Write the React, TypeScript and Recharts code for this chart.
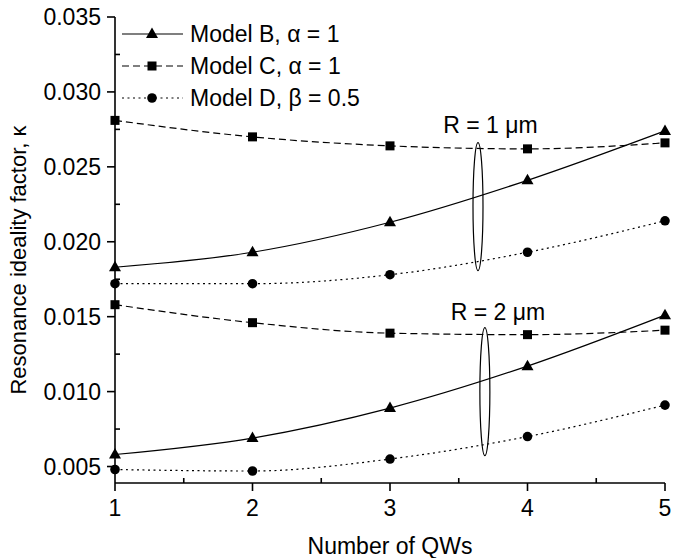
import React from "react";
import { LineChart, Line, XAxis, YAxis, ReferenceDot } from "recharts";

const qws = [1, 2, 3, 4, 5];

// R = 1 um
const modelB_R1 = [0.0183, 0.0193, 0.0213, 0.0241, 0.0274];
const modelC_R1 = [0.0281, 0.027, 0.0264, 0.0262, 0.0266];
const modelD_R1 = [0.0172, 0.0172, 0.0178, 0.0193, 0.0214];

// R = 2 um
const modelB_R2 = [0.0058, 0.0069, 0.0089, 0.0117, 0.0151];
const modelC_R2 = [0.0158, 0.0146, 0.0139, 0.0138, 0.0141];
const modelD_R2 = [0.0048, 0.0047, 0.0055, 0.007, 0.0091];

const xTicks = [1, 1.5, 2, 2.5, 3, 3.5, 4, 4.5, 5];
const yTicks = [
  0.005, 0.0075, 0.01, 0.0125, 0.015, 0.0175, 0.02, 0.0225, 0.025, 0.0275, 0.03,
  0.0325, 0.035,
];

const legendLabels = ["Model B, \u03b1 = 1", "Model C, \u03b1 = 1", "Model D, \u03b2 = 0.5"];
const ringLabels = ["R = 1 \u03bcm", "R = 2 \u03bcm"];
const ringCenters = [
  { x: 3.64, y: 0.02235 },
  { x: 3.69, y: 0.01 },
];
const ringLabelPos = [
  { x: 3.73, y: 0.0278 },
  { x: 3.785, y: 0.01534 },
];

const data = qws.map((n, i) => ({
  n,
  bR1: modelB_R1[i],
  cR1: modelC_R1[i],
  dR1: modelD_R1[i],
  bR2: modelB_R2[i],
  cR2: modelC_R2[i],
  dR2: modelD_R2[i],
}));

const FONT = "'Liberation Sans', Arial, sans-serif";
const AXIS_W = 1.6;

const isMajorX = (v: number) => Number.isInteger(v);
const isMajorY = (v: number) => Math.abs(v * 200 - Math.round(v * 200)) < 1e-6;

function LeftTick(props: any) {
  const { x, y, payload } = props;
  const major = isMajorY(payload.value);
  return (
    <g>
      {major ? (
        <line x1={x - 8} y1={y} x2={x} y2={y} stroke="#000" strokeWidth={AXIS_W} />
      ) : (
        <line x1={x} y1={y} x2={x + 5} y2={y} stroke="#000" strokeWidth={AXIS_W} />
      )}
      {major && (
        <text x={x - 14} y={y} textAnchor="end" dominantBaseline="central" fontSize={23} fontFamily={FONT} fill="#000">
          {payload.value.toFixed(3)}
        </text>
      )}
    </g>
  );
}

function RightTick(props: any) {
  const { x, y } = props;
  return <line x1={x - 5} y1={y} x2={x} y2={y} stroke="#000" strokeWidth={AXIS_W} />;
}

function BottomTick(props: any) {
  const { x, y, payload } = props;
  const major = isMajorX(payload.value);
  return (
    <g>
      {major ? (
        <line x1={x} y1={y} x2={x} y2={y + 8} stroke="#000" strokeWidth={AXIS_W} />
      ) : (
        <line x1={x} y1={y} x2={x} y2={y - 5} stroke="#000" strokeWidth={AXIS_W} />
      )}
      {major && (
        <text x={x} y={y + 25} textAnchor="middle" dominantBaseline="central" fontSize={23} fontFamily={FONT} fill="#000">
          {payload.value}
        </text>
      )}
    </g>
  );
}

function TopTick(props: any) {
  const { x, y, payload } = props;
  const major = isMajorX(payload.value);
  return major ? (
    <line x1={x} y1={y - 8} x2={x} y2={y} stroke="#000" strokeWidth={AXIS_W} />
  ) : (
    <line x1={x} y1={y} x2={x} y2={y + 5} stroke="#000" strokeWidth={AXIS_W} />
  );
}

function Triangle({ cx, cy }: any) {
  if (cx == null || cy == null) return null;
  return <polygon points={`${cx},${cy - 6.5} ${cx - 6},${cy + 4} ${cx + 6},${cy + 4}`} fill="#000" />;
}

function Square({ cx, cy }: any) {
  if (cx == null || cy == null) return null;
  return <rect x={cx - 4.5} y={cy - 4.5} width={9} height={9} fill="#000" />;
}

function Circle({ cx, cy }: any) {
  if (cx == null || cy == null) return null;
  return <circle cx={cx} cy={cy} r={4.8} fill="#000" />;
}

const markers = [Triangle, Square, Circle];
const dashes = [undefined, "7 4", "2 3.5"];

function LegendOverlay() {
  const rows = [34, 66, 98];
  return (
    <svg width={673} height={558} style={{ position: "absolute", left: 0, top: 0, pointerEvents: "none" }}>
      {legendLabels.map((label, i) => {
        const M = markers[i];
        return (
          <g key={label}>
            <line x1={122} y1={rows[i]} x2={183} y2={rows[i]} stroke="#000" strokeWidth={1.2} strokeDasharray={dashes[i]} />
            <M cx={152} cy={rows[i]} />
            <text x={190} y={rows[i]} dominantBaseline="central" fontSize={23} fontFamily={FONT} fill="#000">
              {label}
            </text>
          </g>
        );
      })}
    </svg>
  );
}

export default function App() {
  const series = [
    { key: "bR1", i: 0 },
    { key: "cR1", i: 1 },
    { key: "dR1", i: 2 },
    { key: "bR2", i: 0 },
    { key: "cR2", i: 1 },
    { key: "dR2", i: 2 },
  ];
  return (
    <div style={{ position: "absolute", left: 0, top: 0, width: 673, height: 558, background: "#fff" }}>
      <LineChart width={673} height={558} data={data} margin={{ top: 17, right: 8, bottom: 0, left: 0 }}>
        <XAxis
          dataKey="n"
          type="number"
          domain={[1, 5]}
          ticks={xTicks}
          interval={0}
          height={75}
          tickSize={0}
          tickMargin={0}
          tickLine={false}
          axisLine={{ stroke: "#000", strokeWidth: AXIS_W }}
          tick={<BottomTick />}
          label={{ value: "Number of QWs", position: "insideBottom", offset: 4, fontSize: 23, fontFamily: FONT, fill: "#000" }}
        />
        <XAxis
          xAxisId="top"
          dataKey="n"
          type="number"
          orientation="top"
          domain={[1, 5]}
          ticks={xTicks}
          interval={0}
          height={0}
          tickSize={0}
          tickMargin={0}
          tickLine={false}
          axisLine={{ stroke: "#000", strokeWidth: AXIS_W }}
          tick={<TopTick />}
        />
        <YAxis
          type="number"
          domain={[0.0039, 0.035]}
          ticks={yTicks}
          interval={0}
          allowDataOverflow
          width={115}
          tickSize={0}
          tickMargin={0}
          tickLine={false}
          axisLine={{ stroke: "#000", strokeWidth: AXIS_W }}
          tick={<LeftTick />}
          label={{
            value: "Resonance ideality factor, \u03ba",
            angle: -90,
            position: "insideLeft",
            offset: 0,
            dx: 18,
            dy: 10,
            fontSize: 22,
            fontFamily: FONT,
            fill: "#000",
            style: { textAnchor: "middle" },
          }}
        />
        <YAxis
          yAxisId="right"
          orientation="right"
          type="number"
          domain={[0.0039, 0.035]}
          ticks={yTicks}
          interval={0}
          allowDataOverflow
          width={0}
          tickSize={0}
          tickMargin={0}
          tickLine={false}
          axisLine={{ stroke: "#000", strokeWidth: AXIS_W }}
          tick={<RightTick />}
        />
        {series.map((s) => {
          const M = markers[s.i];
          return (
            <Line
              key={s.key}
              dataKey={s.key}
              type="monotone"
              stroke="#000"
              strokeWidth={1.2}
              strokeDasharray={dashes[s.i]}
              dot={<M />}
              activeDot={false}
              isAnimationActive={false}
            />
          );
        })}
        {ringCenters.map((c, i) => (
          <ReferenceDot
            key={"ring" + i}
            x={c.x}
            y={c.y}
            r={0}
            shape={(p: any) => (
              <ellipse cx={p.cx} cy={p.cy} rx={5} ry={64} fill="none" stroke="#000" strokeWidth={1.2} />
            )}
          />
        ))}
        {ringLabelPos.map((c, i) => (
          <ReferenceDot
            key={"lab" + i}
            x={c.x}
            y={c.y}
            r={0}
            shape={(p: any) => (
              <text x={p.cx} y={p.cy} textAnchor="middle" dominantBaseline="central" fontSize={23} fontFamily={FONT} fill="#000">
                {ringLabels[i]}
              </text>
            )}
          />
        ))}
      </LineChart>
      <LegendOverlay />
    </div>
  );
}
